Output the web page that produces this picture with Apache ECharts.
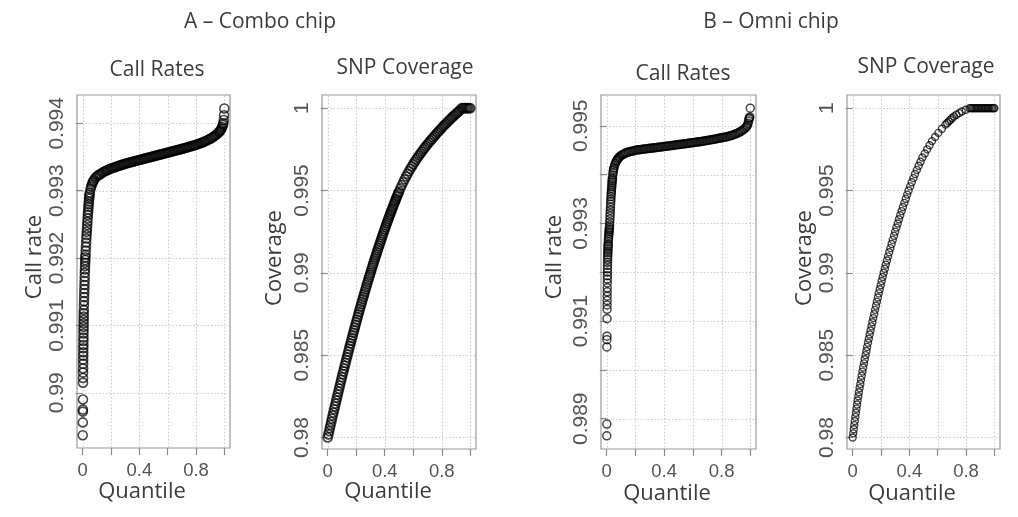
<!DOCTYPE html>
<html>
<head>
<meta charset="utf-8">
<script src="https://cdn.jsdelivr.net/npm/echarts@6/dist/echarts.min.js"></script>
<style>
  html, body { margin: 0; padding: 0; background: #fff; }
  #chart { width: 1018px; height: 517px; }
</style>
</head>
<body>
<div id="chart"></div>
<script>
// ---- tick values ----
const quantileTicks = [0, 0.2, 0.4, 0.6, 0.8, 1];
const quantileLabels = [0, 0.4, 0.8];
const comboCallTicks = [0.99, 0.991, 0.992, 0.993, 0.994];
const omniCallTicks = [0.989, 0.99, 0.991, 0.992, 0.993, 0.994, 0.995];
const omniCallLabels = [0.989, 0.991, 0.993, 0.995];
const coverageTicks = [0.98, 0.985, 0.99, 0.995, 1];

// ---- A: Combo chip, sample call rates (quantile, call rate) ----
const comboCallQ = [
  0.0005, 0.0010, 0.0013, 0.0015, 0.0018, 0.0022, 0.0025, 0.0028, 0.0031, 0.0034,
  0.0037, 0.0040, 0.0043, 0.0046, 0.0049, 0.0052, 0.0055, 0.0058, 0.0061, 0.0064,
  0.0067, 0.0070, 0.0073, 0.0076, 0.0080, 0.0088, 0.0096, 0.0104, 0.0112, 0.0120,
  0.0128, 0.0136, 0.0144, 0.0152, 0.0160, 0.0168, 0.0176, 0.0184, 0.0192, 0.0200,
  0.0215, 0.0230, 0.0245, 0.0260, 0.0275, 0.0290, 0.0305, 0.0320, 0.0335, 0.0350,
  0.0365, 0.0380, 0.0395, 0.0410, 0.0425, 0.0440, 0.0455, 0.0470, 0.0485, 0.0500,
  0.055, 0.060, 0.065, 0.070, 0.075, 0.080, 0.090, 0.100,
  0.11, 0.12, 0.13, 0.14, 0.15, 0.16, 0.17, 0.18, 0.19, 0.20,
  0.21, 0.22, 0.23, 0.24, 0.25, 0.26, 0.27, 0.28, 0.29, 0.30,
  0.31, 0.32, 0.33, 0.34, 0.35, 0.36, 0.37, 0.38, 0.39, 0.40,
  0.41, 0.42, 0.43, 0.44, 0.45, 0.46, 0.47, 0.48, 0.49, 0.50,
  0.51, 0.52, 0.53, 0.54, 0.55, 0.56, 0.57, 0.58, 0.59, 0.60,
  0.61, 0.62, 0.63, 0.64, 0.65, 0.66, 0.67, 0.68, 0.69, 0.70,
  0.71, 0.72, 0.73, 0.74, 0.75, 0.76, 0.77, 0.78, 0.79, 0.80,
  0.81, 0.82, 0.83, 0.84, 0.85, 0.86, 0.87, 0.88, 0.89, 0.90,
  0.91, 0.92, 0.93, 0.94, 0.95, 0.96, 0.965, 0.97, 0.975, 0.98,
  0.985, 0.99, 0.993, 0.996, 0.998, 1.000
];
const comboCallRate = [
  0.98937, 0.98956, 0.98972, 0.98975, 0.98990, 0.99015, 0.99022, 0.99030, 0.99036, 0.99043,
  0.99049, 0.99055, 0.99060, 0.99066, 0.99071, 0.99077, 0.99082, 0.99088, 0.99093, 0.99098,
  0.99103, 0.99108, 0.99113, 0.99118, 0.99123, 0.99130, 0.99136, 0.99142, 0.99148, 0.99154,
  0.99160, 0.99166, 0.99172, 0.99178, 0.99183, 0.99188, 0.99193, 0.99197, 0.99201, 0.99205,
  0.99211, 0.99217, 0.99223, 0.99229, 0.99234, 0.99239, 0.99244, 0.99249, 0.99254, 0.99259,
  0.99264, 0.99268, 0.99272, 0.99276, 0.99280, 0.99284, 0.99288, 0.99291, 0.99294, 0.99297,
  0.99302, 0.99306, 0.99309, 0.99312, 0.99314, 0.99316, 0.99319, 0.99321,
  0.99323, 0.99324, 0.99325, 0.99327, 0.99328, 0.99329, 0.99330, 0.99331, 0.99332, 0.99333,
  0.993337, 0.993344, 0.993351, 0.993358, 0.993365, 0.993372, 0.993379, 0.993386, 0.993393, 0.993400,
  0.993406, 0.993411, 0.993417, 0.993422, 0.993428, 0.993433, 0.993439, 0.993444, 0.993450, 0.993455,
  0.993461, 0.993466, 0.993472, 0.993477, 0.993483, 0.993488, 0.993494, 0.993499, 0.993505, 0.993510,
  0.993516, 0.993521, 0.993527, 0.993532, 0.993538, 0.993543, 0.993549, 0.993554, 0.993560, 0.993565,
  0.993571, 0.993576, 0.993582, 0.993587, 0.993593, 0.993598, 0.993604, 0.993609, 0.993615, 0.993620,
  0.993626, 0.993632, 0.993638, 0.993644, 0.993650, 0.993656, 0.993662, 0.993668, 0.993674, 0.993680,
  0.993688, 0.993696, 0.993704, 0.993712, 0.993720, 0.993729, 0.993738, 0.993748, 0.993758, 0.993770,
  0.993782, 0.993795, 0.993810, 0.993826, 0.993843, 0.993862, 0.993874, 0.993888, 0.993904, 0.993922,
  0.993945, 0.993975, 0.994000, 0.994050, 0.994120, 0.994220
];

// ---- A: Combo chip, SNP coverage (quantile, coverage) ----
const comboCovQ = [
  0.000, 0.005, 0.010, 0.015, 0.020, 0.025, 0.030, 0.035, 0.040, 0.045,
  0.050, 0.055, 0.060, 0.065, 0.070, 0.075, 0.080, 0.085, 0.090, 0.095,
  0.100, 0.105, 0.110, 0.115, 0.120, 0.125, 0.130, 0.135, 0.140, 0.145,
  0.150, 0.155, 0.160, 0.165, 0.170, 0.175, 0.180, 0.185, 0.190, 0.195,
  0.200, 0.205, 0.210, 0.215, 0.220, 0.225, 0.230, 0.235, 0.240, 0.245,
  0.250, 0.255, 0.260, 0.265, 0.270, 0.275, 0.280, 0.285, 0.290, 0.295,
  0.300, 0.305, 0.310, 0.315, 0.320, 0.325, 0.330, 0.335, 0.340, 0.345,
  0.350, 0.355, 0.360, 0.365, 0.370, 0.375, 0.380, 0.385, 0.390, 0.395,
  0.400, 0.405, 0.410, 0.415, 0.420, 0.425, 0.430, 0.435, 0.440, 0.445,
  0.450, 0.455, 0.460, 0.465, 0.470, 0.475, 0.480, 0.485, 0.490, 0.495,
  0.50, 0.51, 0.52, 0.53, 0.54, 0.55, 0.56, 0.57, 0.58, 0.59,
  0.60, 0.61, 0.62, 0.63, 0.64, 0.65, 0.66, 0.67, 0.68, 0.69,
  0.70, 0.71, 0.72, 0.73, 0.74, 0.75, 0.76, 0.77, 0.78, 0.79,
  0.80, 0.81, 0.82, 0.83, 0.84, 0.85, 0.86, 0.87, 0.88, 0.89,
  0.90, 0.91, 0.92, 0.93, 0.94, 0.95, 0.96, 0.97, 0.98, 0.99,
  1.00
];
const comboCoverage = [
  0.98000, 0.98019, 0.98038, 0.98057, 0.98076, 0.98095, 0.98114, 0.98133, 0.98151, 0.98170,
  0.98188, 0.98206, 0.98224, 0.98242, 0.98260, 0.98278, 0.98296, 0.98314, 0.98332, 0.98350,
  0.98367, 0.98385, 0.98402, 0.98419, 0.98436, 0.98453, 0.98470, 0.98487, 0.98504, 0.98521,
  0.98538, 0.98555, 0.98571, 0.98588, 0.98604, 0.98620, 0.98636, 0.98652, 0.98668, 0.98684,
  0.98700, 0.98716, 0.98732, 0.98748, 0.98763, 0.98779, 0.98794, 0.98809, 0.98824, 0.98839,
  0.98854, 0.98869, 0.98884, 0.98899, 0.98914, 0.98929, 0.98943, 0.98958, 0.98972, 0.98986,
  0.99000, 0.99014, 0.99028, 0.99042, 0.99056, 0.99070, 0.99083, 0.99097, 0.99110, 0.99124,
  0.99137, 0.99150, 0.99163, 0.99176, 0.99189, 0.99202, 0.99215, 0.99228, 0.99240, 0.99253,
  0.99265, 0.99278, 0.99290, 0.99302, 0.99314, 0.99326, 0.99338, 0.99350, 0.99361, 0.99373,
  0.99384, 0.99395, 0.99406, 0.99418, 0.99429, 0.99440, 0.99451, 0.99462, 0.99472, 0.99483,
  0.99493, 0.99513, 0.99532, 0.99550, 0.99568, 0.99585, 0.99601, 0.99617, 0.99632, 0.99646,
  0.99660, 0.99674, 0.99687, 0.99700, 0.99712, 0.99724, 0.99736, 0.99748, 0.99759, 0.99770,
  0.99781, 0.99792, 0.99802, 0.99812, 0.99822, 0.99832, 0.99842, 0.99852, 0.99861, 0.99871,
  0.99880, 0.99890, 0.99899, 0.99907, 0.99916, 0.99925, 0.99933, 0.99942, 0.99950, 0.99958,
  0.99966, 0.99974, 0.99981, 0.99990, 1, 1, 1, 1, 1, 1,
  1
];

// ---- B: Omni chip, sample call rates (quantile, call rate) ----
const omniCallQ = [
  0.0003, 0.0006, 0.0009, 0.0012, 0.0015, 0.0018, 0.0021, 0.0024, 0.0027, 0.0030,
  0.0033, 0.0036, 0.0039, 0.0042, 0.0045, 0.0048, 0.0051, 0.0054, 0.0057, 0.0060,
  0.0065, 0.0070, 0.0075, 0.0080, 0.0085, 0.0090, 0.0095, 0.0100,
  0.011, 0.012, 0.013, 0.014, 0.015, 0.016, 0.017, 0.018, 0.019, 0.020,
  0.021, 0.022, 0.023, 0.024, 0.025, 0.026, 0.027, 0.028, 0.029, 0.030,
  0.031, 0.032, 0.033, 0.034, 0.035, 0.036, 0.037, 0.038, 0.039, 0.040,
  0.042, 0.044, 0.046, 0.048, 0.050, 0.055, 0.060, 0.066, 0.070, 0.075,
  0.080, 0.085, 0.090, 0.100,
  0.11, 0.12, 0.13, 0.14, 0.15, 0.16, 0.17, 0.18, 0.19, 0.20,
  0.21, 0.22, 0.23, 0.24, 0.25, 0.26, 0.27, 0.28, 0.29, 0.30,
  0.31, 0.32, 0.33, 0.34, 0.35, 0.36, 0.37, 0.38, 0.39, 0.40,
  0.41, 0.42, 0.43, 0.44, 0.45, 0.46, 0.47, 0.48, 0.49, 0.50,
  0.51, 0.52, 0.53, 0.54, 0.55, 0.56, 0.57, 0.58, 0.59, 0.60,
  0.61, 0.62, 0.63, 0.64, 0.65, 0.66, 0.67, 0.68, 0.69, 0.70,
  0.71, 0.72, 0.73, 0.74, 0.75, 0.76, 0.77, 0.78, 0.79, 0.80,
  0.81, 0.82, 0.83, 0.84, 0.85, 0.86, 0.87, 0.88, 0.89, 0.90,
  0.91, 0.92, 0.93, 0.94, 0.95, 0.96, 0.97, 0.975, 0.98, 0.985,
  0.988, 0.991, 0.994, 0.997, 1.000
];
const omniCallRate = [
  0.98865, 0.98889, 0.99047, 0.99062, 0.99069, 0.99105, 0.99124, 0.99133, 0.99142, 0.99151,
  0.99160, 0.99168, 0.99178, 0.99186, 0.99193, 0.99200, 0.99207, 0.99214, 0.99220, 0.99226,
  0.99231, 0.99236, 0.99240, 0.99244, 0.99248, 0.99252, 0.99255, 0.99258,
  0.99263, 0.99268, 0.99272, 0.99276, 0.99280, 0.99283, 0.99286, 0.99289, 0.99292, 0.99297,
  0.99303, 0.99309, 0.99315, 0.99321, 0.99327, 0.99333, 0.99339, 0.99345, 0.99350, 0.99355,
  0.99360, 0.99364, 0.99368, 0.99372, 0.99376, 0.99380, 0.99384, 0.99387, 0.99390, 0.99393,
  0.99399, 0.99404, 0.99408, 0.99411, 0.99414, 0.99419, 0.99423, 0.99427, 0.99429, 0.99431,
  0.99433, 0.99435, 0.99437, 0.99439,
  0.99441, 0.99442, 0.99444, 0.99445, 0.99446, 0.99447, 0.99448, 0.99448, 0.99449, 0.99450,
  0.994504, 0.994507, 0.994511, 0.994515, 0.994518, 0.994522, 0.994526, 0.994530, 0.994533, 0.994537,
  0.994541, 0.994544, 0.994548, 0.994552, 0.994556, 0.994559, 0.994563, 0.994567, 0.994570, 0.994574,
  0.994578, 0.994582, 0.994586, 0.994590, 0.994594, 0.994598, 0.994602, 0.994606, 0.994610, 0.994614,
  0.994618, 0.994622, 0.994626, 0.994630, 0.994634, 0.994638, 0.994642, 0.994646, 0.994650, 0.994654,
  0.994658, 0.994662, 0.994666, 0.994670, 0.994675, 0.994680, 0.994685, 0.994690, 0.994695, 0.994700,
  0.994705, 0.994710, 0.994715, 0.994720, 0.994726, 0.994731, 0.994736, 0.994742, 0.994747, 0.994753,
  0.994758, 0.994764, 0.994770, 0.994777, 0.994785, 0.994794, 0.994803, 0.994813, 0.994823, 0.994834,
  0.994847, 0.994861, 0.994877, 0.994895, 0.994915, 0.994938, 0.994965, 0.994985, 0.995010, 0.995050,
  0.995100, 0.995140, 0.995160, 0.995180, 0.995360
];

// ---- B: Omni chip, SNP coverage (quantile, coverage) ----
const omniCovQ = [
  0.000, 0.004, 0.008, 0.011, 0.015, 0.019, 0.023, 0.027, 0.031, 0.035,
  0.040, 0.044, 0.049, 0.054, 0.059, 0.064, 0.069, 0.074, 0.080, 0.085,
  0.091, 0.097, 0.102, 0.108, 0.114, 0.120, 0.126, 0.133, 0.139, 0.145,
  0.152, 0.158, 0.165, 0.171, 0.178, 0.184, 0.191, 0.198, 0.205, 0.212,
  0.219, 0.227, 0.234, 0.242, 0.250, 0.258, 0.266, 0.275, 0.283, 0.292,
  0.300, 0.309, 0.318, 0.327, 0.336, 0.346, 0.355, 0.365, 0.375, 0.385,
  0.395, 0.406, 0.417, 0.429, 0.440, 0.453, 0.466, 0.479, 0.492, 0.509,
  0.526, 0.543, 0.560, 0.582, 0.605, 0.630, 0.655, 0.667, 0.679, 0.691,
  0.703, 0.715, 0.733, 0.752, 0.770, 0.798, 0.825,
  0.835, 0.845, 0.855, 0.865, 0.875, 0.885, 0.895, 0.905, 0.915, 0.925,
  0.935, 0.945, 0.955, 0.965, 0.975, 0.985, 0.995, 1.000
];
const omniCoverage = [
  0.98000, 0.98025, 0.98050, 0.98075, 0.98100, 0.98125, 0.98150, 0.98175, 0.98200, 0.98225,
  0.98250, 0.98275, 0.98300, 0.98325, 0.98350, 0.98375, 0.98400, 0.98425, 0.98450, 0.98475,
  0.98500, 0.98525, 0.98550, 0.98575, 0.98600, 0.98625, 0.98650, 0.98675, 0.98700, 0.98725,
  0.98750, 0.98775, 0.98800, 0.98825, 0.98850, 0.98875, 0.98900, 0.98925, 0.98950, 0.98975,
  0.99000, 0.99025, 0.99050, 0.99075, 0.99100, 0.99125, 0.99150, 0.99175, 0.99200, 0.99225,
  0.99250, 0.99275, 0.99300, 0.99325, 0.99350, 0.99375, 0.99400, 0.99425, 0.99450, 0.99475,
  0.99500, 0.99525, 0.99550, 0.99575, 0.99600, 0.99625, 0.99650, 0.99675, 0.99700, 0.99725,
  0.99750, 0.99775, 0.99800, 0.99825, 0.99850, 0.99875, 0.99900, 0.99910, 0.99920, 0.99930,
  0.99940, 0.99950, 0.99960, 0.99970, 0.99980, 0.99990, 1,
  1, 1, 1, 1, 1, 1, 1, 1, 1, 1,
  1, 1, 1, 1, 1, 1, 1, 1
];

// ---- text ----
const chipTitles = ['A \u2013 Combo chip', 'B \u2013 Omni chip'];
const panelTitles = ['Call Rates', 'SNP Coverage', 'Call Rates', 'SNP Coverage'];
const yAxisTitles = ['Call rate', 'Coverage', 'Call rate', 'Coverage'];
const xAxisTitle = 'Quantile';

// ---- layout ----
const plotBoxes = [
  { left: 77,  top: 95, width: 153, height: 353 },
  { left: 322, top: 95, width: 154, height: 354 },
  { left: 601, top: 95, width: 155, height: 354 },
  { left: 847, top: 95, width: 153, height: 354 }
];
const yRanges = [
  [0.98918, 0.99442],
  [0.9793, 1.0008],
  [0.98838, 0.99563],
  [0.9793, 1.0008]
];
const chipTitlePos = [[260, 22], [771, 22]];
const panelTitlePos = [[157, 70], [405, 68], [683, 74], [926, 67]];
const yTitlePos = [[35, 257], [275, 258], [555, 257], [805, 258]];
const xTitlePos = [[142, 492], [388, 492], [667, 494], [912, 494]];
const markerStyles = [
  { size: 9, width: 1.6, alpha: 0.9 },
  { size: 9, width: 1.7, alpha: 0.9 },
  { size: 8, width: 1.5, alpha: 0.9 },
  { size: 7, width: 1.4, alpha: 0.92 }
];

const panelData = [
  { q: comboCallQ, v: comboCallRate, ticks: comboCallTicks, labels: comboCallTicks },
  { q: comboCovQ,  v: comboCoverage, ticks: coverageTicks,  labels: coverageTicks },
  { q: omniCallQ,  v: omniCallRate,  ticks: omniCallTicks,  labels: omniCallLabels },
  { q: omniCovQ,   v: omniCoverage,  ticks: coverageTicks,  labels: coverageTicks }
];

const zip = (xs, ys) => xs.slice(0, Math.min(xs.length, ys.length)).map((x, i) => [x, ys[i]]);

const tickFont = '"Liberation Sans", Arial, sans-serif';
const textFont = '"Open Sans", "Noto Sans", sans-serif';
const tickColor = '#8c8c8c';
const labelColor = '#555555';

const grid = [], xAxis = [], yAxis = [], series = [];

panelData.forEach((p, i) => {
  grid.push(Object.assign({
    show: true,
    borderColor: '#9a9a9a',
    borderWidth: 1.2,
    backgroundColor: 'transparent',
    containLabel: false
  }, plotBoxes[i]));

  xAxis.push({
    type: 'value', gridIndex: i, min: -0.04, max: 1.04,
    axisLine: { show: false },
    axisTick: { show: true, length: 7, lineStyle: { color: tickColor, width: 1.2 }, customValues: quantileTicks },
    axisLabel: {
      customValues: quantileLabels, margin: 13,
      fontFamily: tickFont, fontSize: 18.5, color: labelColor,
      formatter: v => String(v)
    },
    splitLine: { show: false }
  });

  yAxis.push({
    type: 'value', gridIndex: i, min: yRanges[i][0], max: yRanges[i][1],
    axisLine: { show: false },
    axisTick: { show: true, length: 7, lineStyle: { color: tickColor, width: 1.2 }, customValues: p.ticks },
    axisLabel: {
      customValues: p.labels, rotate: 90, margin: 9,
      fontFamily: tickFont, fontSize: 21, color: labelColor,
      formatter: v => String(v)
    },
    splitLine: { show: false }
  });

  // open circles, one per quantile
  const m = markerStyles[i];
  series.push({
    type: 'scatter', xAxisIndex: i, yAxisIndex: i, z: 3, silent: true,
    data: zip(p.q, p.v),
    symbol: 'circle', symbolSize: m.size,
    itemStyle: { color: 'rgba(0,0,0,0)', borderColor: 'rgba(0,0,0,' + m.alpha + ')', borderWidth: m.width }
  });
});

const textGraphic = [];
const addText = (text, pos, size, rotated) => textGraphic.push({
  type: 'text', x: pos[0], y: pos[1], rotation: rotated ? Math.PI / 2 : 0, silent: true, z: 5,
  style: {
    text: text, font: size + 'px ' + textFont, fill: '#3c3c3c',
    textAlign: 'center', textVerticalAlign: 'middle', align: 'center', verticalAlign: 'middle'
  }
});
chipTitles.forEach((t, i) => addText(t, chipTitlePos[i], 21, false));
panelTitles.forEach((t, i) => addText(t, panelTitlePos[i], 21, false));
yAxisTitles.forEach((t, i) => addText(t, yTitlePos[i], 22, true));
xTitlePos.forEach(pos => addText(xAxisTitle, pos, 22, false));

const chart = echarts.init(document.getElementById('chart'), null, { renderer: 'canvas' });
chart.setOption({
  animation: false,
  backgroundColor: '#ffffff',
  grid, xAxis, yAxis, series
});

// dotted reference grid at every tick, placed through each panel's axes
const gridDash = { stroke: '#cdcdcd', lineWidth: 1, lineDash: [1.5, 2] };
const crisp = v => Math.round(v) + 0.5;
const gridGraphic = [];
panelData.forEach((p, i) => {
  const b = plotBoxes[i];
  quantileTicks.forEach(t => {
    const x = crisp(chart.convertToPixel({ xAxisIndex: i }, t));
    gridGraphic.push({ type: 'line', silent: true, z: 0,
      shape: { x1: x, y1: b.top + 1, x2: x, y2: b.top + b.height - 1 }, style: gridDash });
  });
  p.ticks.forEach(t => {
    const y = crisp(chart.convertToPixel({ yAxisIndex: i }, t));
    gridGraphic.push({ type: 'line', silent: true, z: 0,
      shape: { x1: b.left + 1, y1: y, x2: b.left + b.width - 1, y2: y }, style: gridDash });
  });
});

chart.setOption({ graphic: gridGraphic.concat(textGraphic) });
</script>
</body>
</html>
